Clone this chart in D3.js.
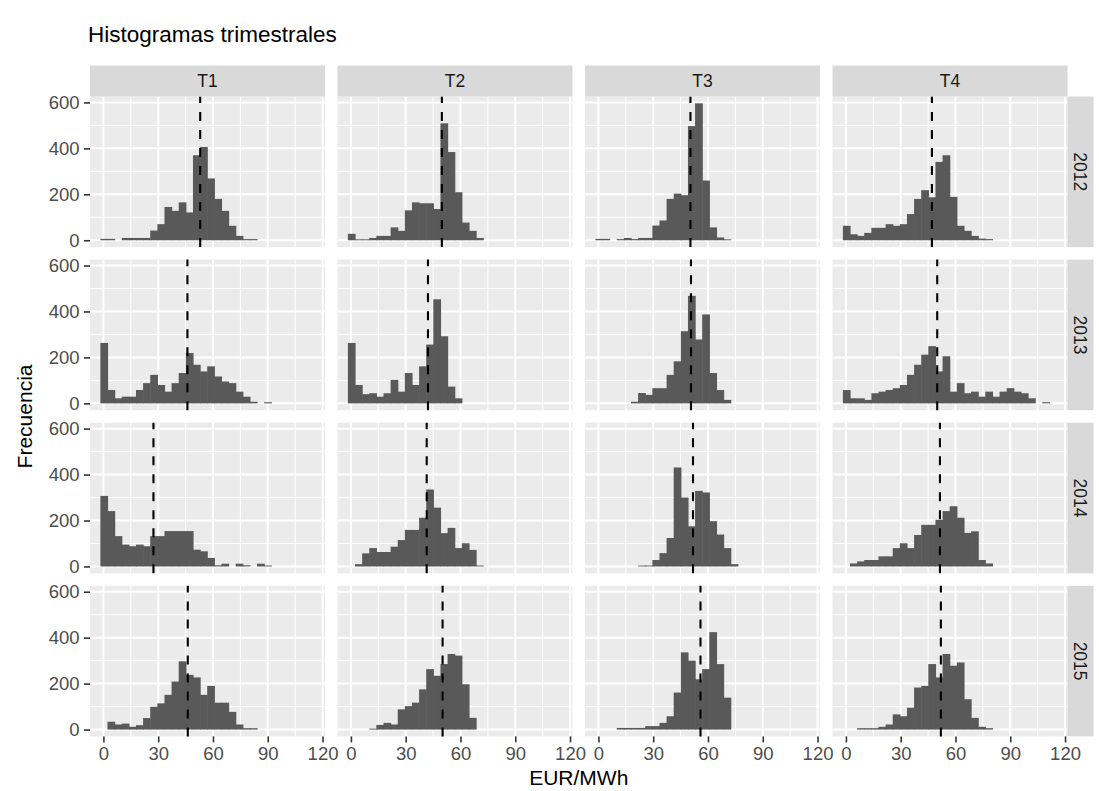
<!DOCTYPE html>
<html><head><meta charset="utf-8">
<script src="https://cdn.jsdelivr.net/npm/d3@7"></script>
<style>
body{margin:0;background:#fff}
svg{display:block}
text{font-family:"Liberation Sans",Arial,Helvetica,sans-serif}
</style>
</head><body>
<svg id="chart" width="1099" height="791"></svg>
<script>
// ---------- data ----------
const years = ["2012", "2013", "2014", "2015"];
const quarters = ["T1", "T2", "T3", "T4"];
const binStart = -1.5;   // EUR/MWh, lower edge of first bin
const binWidth = 3.9;    // EUR/MWh
const xTicks = [0, 30, 60, 90, 120];
const yTicks = [0, 200, 400, 600];
const xMinorTicks = [15, 45, 75, 105];
const yMinorTicks = [100, 300, 500];

// counts per bin (30 bins)
const h2012T1 = [6,6,0,10,10,10,10,42,70,145,128,165,121,370,406,269,180,128,63,19,5,5,0,0,0,0,0,0,0,0];
const h2012T2 = [28,4,4,10,19,19,56,41,130,165,161,161,136,509,384,209,77,41,10,0,0,0,0,0,0,0,0,0,0,0];
const h2012T3 = [6,6,0,5,10,5,10,10,64,86,180,203,196,497,596,260,56,12,4,0,0,0,0,0,0,0,0,0,0,0];
const h2012T4 = [63,26,19,32,54,54,70,63,70,114,180,218,187,341,370,189,63,41,19,7,5,0,0,0,0,0,0,0,0,0];

const h2013T1 = [263,58,22,29,29,58,88,124,80,51,88,132,219,168,139,161,117,95,88,51,29,7,0,5,0,0,0,0,0,0];
const h2013T2 = [263,80,40,44,29,44,102,51,132,80,161,256,453,292,73,22,0,0,0,0,0,0,0,0,0,0,0,0,0,0];
const h2013T3 = [0,0,0,0,0,7,45,37,66,66,124,183,314,468,278,387,132,58,15,0,0,0,0,0,0,0,0,0,0,0];
const h2013T4 = [58,22,22,15,44,51,58,66,80,124,168,212,249,139,205,51,88,44,51,29,51,29,51,66,51,44,22,0,5,0];

const h2014T1 = [307,241,132,95,88,95,88,132,132,154,154,154,154,73,66,37,5,12,0,12,5,0,12,4,0,0,0,0,0,0];
const h2014T2 = [0,10,57,80,63,63,86,115,159,159,212,335,256,145,168,80,101,72,4,0,0,0,0,0,0,0,0,0,0,0];
const h2014T3 = [0,0,0,0,0,0,4,4,28,58,124,431,300,175,329,322,197,139,80,10,0,0,0,0,0,0,0,0,0,0];
const h2014T4 = [0,13,22,28,28,44,44,80,101,80,137,181,181,203,241,262,212,146,153,28,13,0,0,0,0,0,0,0,0,0];

const h2015T1 = [0,34,22,26,12,19,50,99,114,151,209,297,238,227,151,190,117,117,77,22,6,6,0,0,0,0,0,0,0,0];
const h2015T2 = [0,0,0,4,20,29,22,88,102,117,175,263,234,285,329,322,197,51,0,0,0,0,0,0,0,0,0,0,0,0];
const h2015T3 = [0,0,0,7,7,7,7,15,15,29,58,161,336,300,219,263,424,285,139,0,0,0,0,0,0,0,0,0,0,0];
const h2015T4 = [0,0,6,6,6,12,22,66,58,95,183,190,285,227,329,278,292,132,51,12,6,0,0,0,0,0,0,0,0,0];

// quarterly means (dashed lines)
const means2012 = [53.0, 49.8, 50.4, 47.1];
const means2013 = [46.0, 42.2, 50.7, 50.0];
const means2014 = [27.4, 41.5, 51.8, 51.5];
const means2015 = [46.2, 50.2, 55.9, 52.0];

const counts = [
  [h2012T1, h2012T2, h2012T3, h2012T4],
  [h2013T1, h2013T2, h2013T3, h2013T4],
  [h2014T1, h2014T2, h2014T3, h2014T4],
  [h2015T1, h2015T2, h2015T3, h2015T4]
];
const means = [means2012, means2013, means2014, means2015];

// ---------- layout ----------
const L = {left: 90, top: 96.5, pw: 235, ph: 150.6, gap: 12.5, stripTop: 31, stripRight: 26};
const C = {panel: "#EBEBEB", grid: "#FFFFFF", bar: "#595959", strip: "#D9D9D9",
           stripText: "#1A1A1A", axisText: "#4D4D4D", tick: "#333333"};
const fs = {title: 22.5, axisTitle: 21, tick: 18.5, strip: 17.5};

const svg = d3.select("#chart");

const binEnd = binStart + counts[0][0].length * binWidth;
const xPad = 0.05 * (binEnd - binStart);
const x = d3.scaleLinear().domain([binStart - xPad, binEnd + xPad]).range([0, L.pw]);
const maxC = d3.max(counts.flat(2));
const y = d3.scaleLinear().domain([-0.05 * maxC, 1.05 * maxC]).range([L.ph, 0]);

const colX = c => L.left + c * (L.pw + L.gap);
const rowY = r => L.top + r * (L.ph + L.gap);

years.forEach((yr, r) => {
  quarters.forEach((q, c) => {
    const g = svg.append("g").attr("transform", `translate(${colX(c)},${rowY(r)})`);
    g.append("rect").attr("width", L.pw).attr("height", L.ph).attr("fill", C.panel);
    // minor grid
    g.selectAll(".ymin").data(yMinorTicks).join("line")
      .attr("x1", 0).attr("x2", L.pw).attr("y1", d => y(d)).attr("y2", d => y(d))
      .attr("stroke", C.grid).attr("stroke-width", 1);
    g.selectAll(".xmin").data(xMinorTicks).join("line")
      .attr("y1", 0).attr("y2", L.ph).attr("x1", d => x(d)).attr("x2", d => x(d))
      .attr("stroke", C.grid).attr("stroke-width", 1);
    // major grid
    g.selectAll(".ymaj").data(yTicks).join("line")
      .attr("x1", 0).attr("x2", L.pw).attr("y1", d => y(d)).attr("y2", d => y(d))
      .attr("stroke", C.grid).attr("stroke-width", 2);
    g.selectAll(".xmaj").data(xTicks).join("line")
      .attr("y1", 0).attr("y2", L.ph).attr("x1", d => x(d)).attr("x2", d => x(d))
      .attr("stroke", C.grid).attr("stroke-width", 2);
    // bars (slight overlap to avoid anti-aliasing seams)
    const bins = counts[r][c].map((v, i) => ({x0: binStart + i * binWidth, x1: binStart + (i + 1) * binWidth, n: v}))
      .filter(b => b.n > 0);
    g.selectAll(".bar").data(bins).join("rect")
      .attr("x", d => x(d.x0) - 0.3).attr("width", d => x(d.x1) - x(d.x0) + 0.6)
      .attr("y", d => y(d.n)).attr("height", d => y(0) - y(d.n))
      .attr("fill", C.bar);
    // mean line
    const m = means[r][c];
    g.append("line").attr("x1", x(m)).attr("x2", x(m)).attr("y1", L.ph).attr("y2", 0)
      .attr("stroke", "#000").attr("stroke-width", 2.1).attr("stroke-dasharray", "9,9");

    // strips
    if (r === 0) {
      const s = svg.append("g").attr("transform", `translate(${colX(c)},${rowY(0) - L.stripTop})`);
      s.append("rect").attr("width", L.pw).attr("height", L.stripTop).attr("fill", C.strip);
      s.append("text").attr("x", L.pw / 2).attr("y", L.stripTop / 2).attr("dy", "0.35em")
        .attr("text-anchor", "middle").attr("font-size", fs.strip).attr("fill", C.stripText).text(q);
    }
    if (c === 3) {
      const s = svg.append("g").attr("transform", `translate(${colX(3) + L.pw},${rowY(r)})`);
      s.append("rect").attr("width", L.stripRight).attr("height", L.ph).attr("fill", C.strip);
      s.append("text").attr("transform", `translate(${L.stripRight / 2},${L.ph / 2}) rotate(90)`)
        .attr("dy", "0.35em").attr("text-anchor", "middle").attr("font-size", fs.strip)
        .attr("fill", C.stripText).text(yr);
    }
    // axes
    if (c === 0) {
      const ax = g.append("g").call(d3.axisLeft(y).tickValues(yTicks).tickSize(6).tickPadding(4.5));
      ax.select(".domain").remove();
      ax.selectAll("line").attr("stroke", C.tick).attr("stroke-width", 1.6);
      ax.selectAll("text").attr("fill", C.axisText).attr("font-size", fs.tick)
        .attr("font-family", '"Liberation Sans",Arial,sans-serif');
    }
    if (r === 3) {
      const ax = g.append("g").attr("transform", `translate(0,${L.ph})`)
        .call(d3.axisBottom(x).tickValues(xTicks).tickSize(6).tickPadding(4));
      ax.select(".domain").remove();
      ax.selectAll("line").attr("stroke", C.tick).attr("stroke-width", 1.6);
      ax.selectAll("text").attr("fill", C.axisText).attr("font-size", fs.tick)
        .attr("font-family", '"Liberation Sans",Arial,sans-serif');
    }
  });
});

// titles
const plotCx = (colX(0) + colX(3) + L.pw) / 2;
const plotCy = (rowY(0) + rowY(3) + L.ph) / 2;
svg.append("text").attr("x", 88).attr("y", 42).attr("font-size", fs.title).attr("fill", "#000")
  .text("Histogramas trimestrales");
svg.append("text").attr("x", plotCx).attr("y", 785).attr("text-anchor", "middle")
  .attr("font-size", fs.axisTitle).attr("fill", "#000").text("EUR/MWh");
svg.append("text").attr("transform", `translate(32,${plotCy}) rotate(-90)`).attr("text-anchor", "middle")
  .attr("font-size", fs.axisTitle).attr("fill", "#000").text("Frecuencia");
</script>
</body></html>
